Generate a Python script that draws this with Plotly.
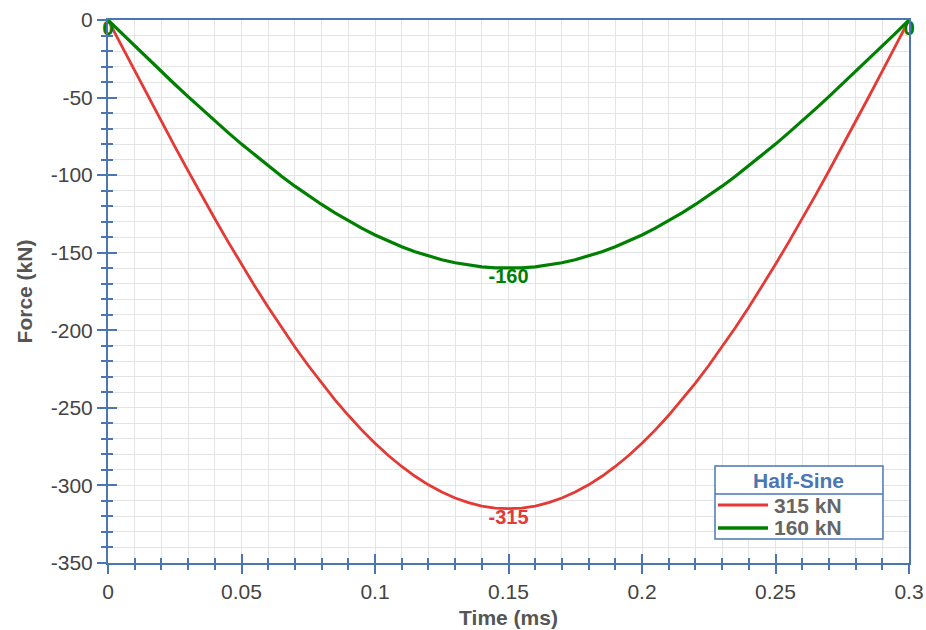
import plotly.graph_objects as go

# ---- data ----
time_ms = [0.000, 0.005, 0.010, 0.015, 0.020, 0.025, 0.030, 0.035, 0.040, 0.045,
           0.050, 0.055, 0.060, 0.065, 0.070, 0.075, 0.080, 0.085, 0.090, 0.095,
           0.100, 0.105, 0.110, 0.115, 0.120, 0.125, 0.130, 0.135, 0.140, 0.145,
           0.150, 0.155, 0.160, 0.165, 0.170, 0.175, 0.180, 0.185, 0.190, 0.195,
           0.200, 0.205, 0.210, 0.215, 0.220, 0.225, 0.230, 0.235, 0.240, 0.245,
           0.250, 0.255, 0.260, 0.265, 0.270, 0.275, 0.280, 0.285, 0.290, 0.295,
           0.300]
force_315 = [0, -16.5, -32.9, -49.3, -65.5, -81.5, -97.3, -112.9, -128.1, -143.0,
             -157.5, -171.6, -185.2, -198.2, -210.8, -222.7, -234.1, -244.8, -254.8, -264.2,
             -272.8, -280.7, -287.8, -294.1, -299.6, -304.3, -308.1, -311.1, -313.3, -314.6,
             -315,
             -314.6, -313.3, -311.1, -308.1, -304.3, -299.6, -294.1, -287.8, -280.7, -272.8,
             -264.2, -254.8, -244.8, -234.1, -222.7, -210.8, -198.2, -185.2, -171.6, -157.5,
             -143.0, -128.1, -112.9, -97.3, -81.5, -65.5, -49.3, -32.9, -16.5, 0]
force_160 = [0, -8.4, -16.7, -25.0, -33.3, -41.4, -49.4, -57.3, -65.1, -72.6,
             -80.0, -87.1, -94.0, -100.7, -107.1, -113.1, -118.9, -124.3, -129.4, -134.2,
             -138.6, -142.6, -146.2, -149.4, -152.2, -154.5, -156.5, -158.0, -159.1, -159.8,
             -160,
             -159.8, -159.1, -158.0, -156.5, -154.5, -152.2, -149.4, -146.2, -142.6, -138.6,
             -134.2, -129.4, -124.3, -118.9, -113.1, -107.1, -100.7, -94.0, -87.1, -80.0,
             -72.6, -65.1, -57.3, -49.4, -41.4, -33.3, -25.0, -16.7, -8.4, 0]
series_names = ["315 kN", "160 kN"]
legend_title = "Half-Sine"
x_title = "Time (ms)"
y_title = "Force (kN)"
x_range = [0, 0.3]
y_range = [-350, 0]
x_tick_vals = [0, 0.05, 0.1, 0.15, 0.2, 0.25, 0.3]
x_tick_text = ["0", "0.05", "0.1", "0.15", "0.2", "0.25", "0.3"]
y_tick_vals = [0, -50, -100, -150, -200, -250, -300, -350]
y_tick_text = ["0", "-50", "-100", "-150", "-200", "-250", "-300", "-350"]

RED = "#e53935"
GREEN = "#008000"
AXIS = "#4a77b4"
GRID = "#e4e4e4"
FONT = "Liberation Sans, Arial, sans-serif"


def point_labels(values):
    lo = min(values)
    out = []
    for i, v in enumerate(values):
        if i == 0 or i == len(values) - 1 or v == lo:
            out.append(f"{v:g}")
        else:
            out.append("")
    return out


fig = go.Figure()

# invisible copy on overlay axes (gives the inward half of the crossing ticks)
fig.add_trace(go.Scatter(x=time_ms, y=force_160, xaxis="x2", yaxis="y2",
                         mode="lines", line=dict(width=0), opacity=0,
                         showlegend=False, hoverinfo="skip"))

series = [(force_315, series_names[0], RED, 2.8),
          (force_160, series_names[1], GREEN, 3.2)]
for vals, name, col, w in series:
    fig.add_trace(go.Scatter(
        x=time_ms, y=vals, name=name, mode="lines+text",
        line=dict(color=col, width=w),
        text=point_labels(vals), textposition="bottom center",
        textfont=dict(family=FONT, size=20, color=col, weight="bold"),
        cliponaxis=False, showlegend=False,
    ))

tick_font = dict(family=FONT, size=21, color="#444444")
title_font = dict(family=FONT, size=21, color="#555555", weight="bold")

# ---- hand-built legend box (paper coordinates) ----
LX0, LX1 = 0.7578, 0.9675
LY0, LY1 = 0.0442, 0.1786
LSEP = 0.1271
row_y = [0.1068, 0.0645]
shapes = [
    dict(type="rect", xref="paper", yref="paper", x0=LX0, x1=LX1, y0=LY0, y1=LY1,
         line=dict(color=AXIS, width=1.5), fillcolor="white", layer="above"),
    dict(type="line", xref="paper", yref="paper", x0=LX0, x1=LX1, y0=LSEP, y1=LSEP,
         line=dict(color=AXIS, width=1.5), layer="above"),
]
annotations = [
    dict(text=f"<b>{legend_title}</b>", xref="paper", yref="paper",
         x=(LX0 + LX1) / 2, y=(LY1 + LSEP) / 2, xanchor="center", yanchor="middle",
         showarrow=False, font=dict(family=FONT, size=21, color=AXIS)),
]
for (vals, name, col, w), ry in zip(series, row_y):
    shapes.append(dict(type="line", xref="paper", yref="paper",
                       x0=0.7615, x1=0.8240, y0=ry, y1=ry,
                       line=dict(color=col, width=w + 0.4), layer="above"))
    annotations.append(dict(text=f"<b>{name}</b>", xref="paper", yref="paper",
                            x=0.8290, y=ry, xanchor="left", yanchor="middle",
                            showarrow=False,
                            font=dict(family=FONT, size=21, color="#666666")))

fig.update_layout(
    width=926, height=630,
    margin=dict(l=108, r=17, t=20, b=67, autoexpand=False),
    paper_bgcolor="white", plot_bgcolor="rgba(0,0,0,0)",
    font=dict(family=FONT),
    showlegend=False,
    shapes=shapes, annotations=annotations,
    xaxis=dict(
        range=x_range, tickvals=x_tick_vals, ticktext=x_tick_text,
        showgrid=True, gridcolor=GRID, gridwidth=1, automargin=False,
        zeroline=False, showline=True, linecolor=AXIS, linewidth=2, mirror=True,
        ticks="outside", ticklen=9, tickwidth=1.5, tickcolor=AXIS,
        minor=dict(dtick=0.01, tick0=0, ticks="outside", ticklen=5, tickwidth=1.5,
                   tickcolor=AXIS, showgrid=True, gridcolor=GRID, gridwidth=1),
        tickfont=tick_font,
        title=dict(text=x_title, font=title_font, standoff=8),
    ),
    yaxis=dict(
        range=y_range, tickvals=y_tick_vals, ticktext=y_tick_text,
        showgrid=True, gridcolor=GRID, gridwidth=1, automargin=False,
        zeroline=False, showline=True, linecolor=AXIS, linewidth=2, mirror=True,
        ticks="outside", ticklen=9, tickwidth=1.5, tickcolor=AXIS,
        minor=dict(dtick=10, tick0=0, ticks="outside", ticklen=5, tickwidth=1.5,
                   tickcolor=AXIS, showgrid=True, gridcolor=GRID, gridwidth=1),
        tickfont=tick_font,
        title=dict(text=y_title, font=title_font, standoff=12),
    ),
    xaxis2=dict(
        range=x_range, tickvals=x_tick_vals, overlaying="x", anchor="y2", side="bottom",
        showgrid=False, zeroline=False, showline=False, showticklabels=False,
        automargin=False,
        ticks="inside", ticklen=9, tickwidth=1.5, tickcolor=AXIS,
        minor=dict(dtick=0.01, tick0=0, ticks="inside", ticklen=5, tickwidth=1.5,
                   tickcolor=AXIS, showgrid=False),
    ),
    yaxis2=dict(
        range=y_range, tickvals=y_tick_vals, overlaying="y", anchor="x2", side="left",
        showgrid=False, zeroline=False, showline=False, showticklabels=False,
        automargin=False,
        ticks="inside", ticklen=9, tickwidth=1.5, tickcolor=AXIS,
        minor=dict(dtick=10, tick0=0, ticks="inside", ticklen=5, tickwidth=1.5,
                   tickcolor=AXIS, showgrid=False),
    ),
)

fig.write_html("out.html")
